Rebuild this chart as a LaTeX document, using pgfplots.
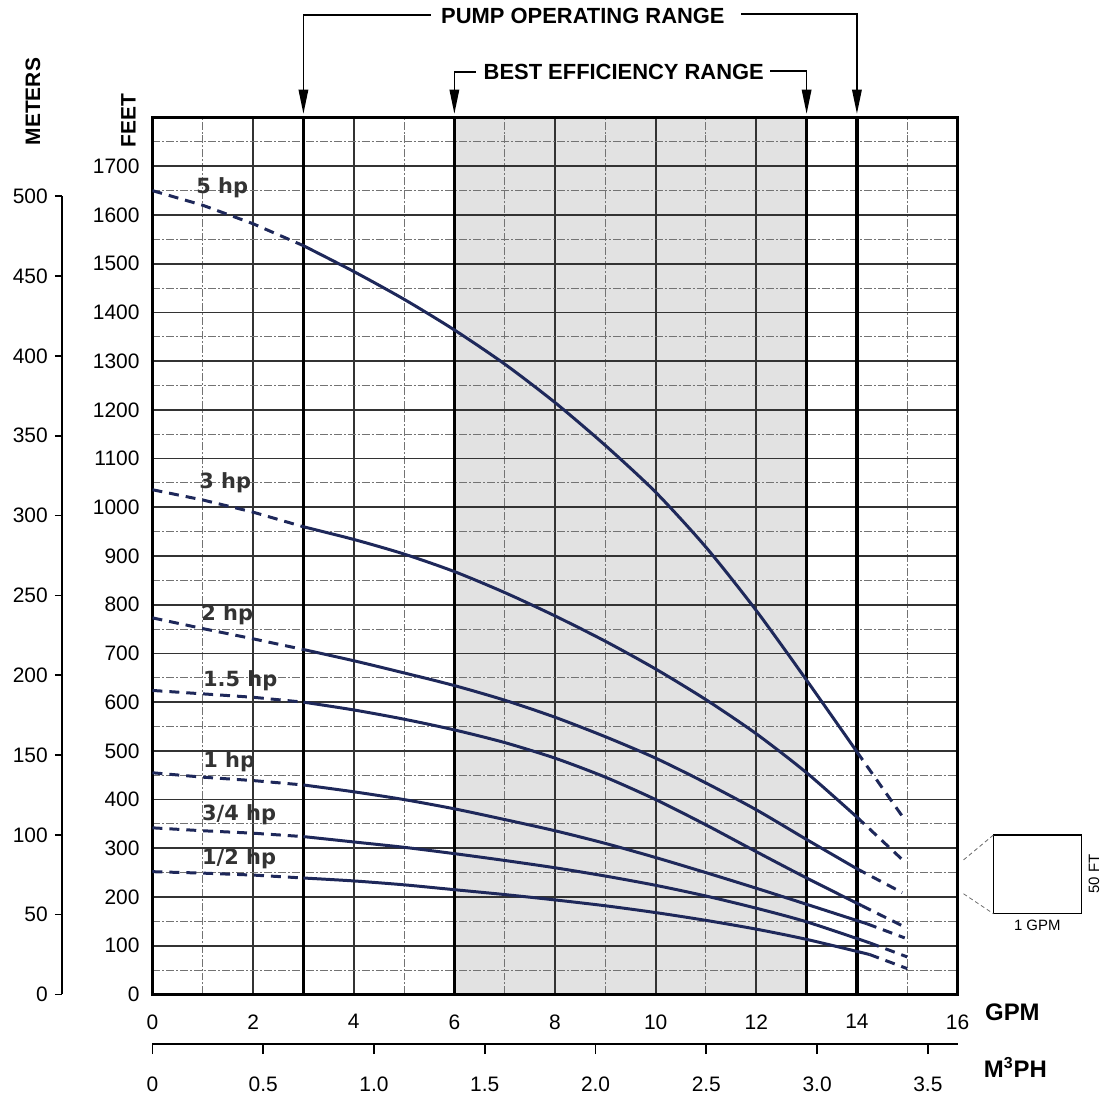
\documentclass[border=0pt]{standalone}
\usepackage{fontspec}
\setmainfont{Liberation Sans}
\newfontfamily\hpfont{DejaVu Sans}
\usepackage{pgfplots}
\pgfplotsset{compat=1.18}
\definecolor{curve}{RGB}{30,40,90}
\definecolor{shade}{RGB}{226,226,226}
\pgfplotsset{
  solidpart/.style={curve, line width=1.5pt, smooth, tension=0.45},
  dashpart/.style={curve, line width=1.5pt, dash pattern=on 5pt off 3.5pt},
}
\begin{document}
\begin{tikzpicture}
\path (0,0) rectangle (553pt,550.5pt);

% main chart, feet vs GPM
\begin{axis}[
  at={(76.5pt,51.5pt)}, anchor=south west,
  scale only axis, width=404pt, height=440pt,
  xmin=0, xmax=16, ymin=0, ymax=1800,
  set layers,
  xtick={0,2,...,16}, minor xtick={1,3,...,15},
  ytick={0,100,...,1700}, minor ytick={50,150,...,1750},
  grid=both,
  major grid style={black!80, line width=0.9pt},
  minor grid style={black!55, line width=0.5pt, dash pattern=on 4pt off 1pt on 1pt off 1pt},
  major tick length=0pt, minor tick length=0pt,
  axis line style={line width=1.6pt},
  tick label style={font=\fontsize{10.5}{12}\selectfont},
  xticklabel style={yshift=-6.5pt},
  yticklabel style={xshift=-3pt},
  /pgf/number format/1000 sep={},
  /pgf/number format/assume math mode=true,
]
% best efficiency band
\addplot[fill=shade, draw=none, on layer=axis background] coordinates {(6,1800) (13,1800)} \closedcycle;
% range lines
\draw[line width=1.6pt] (axis cs:3,0) -- (axis cs:3,1800);
\draw[line width=1.6pt] (axis cs:6,0) -- (axis cs:6,1800);
\draw[line width=1.6pt] (axis cs:13,0) -- (axis cs:13,1800);
\draw[line width=1.6pt] (axis cs:14,0) -- (axis cs:14,1800);

% 5 hp
\addplot[dashpart] coordinates {(0,1650) (1,1620) (2,1582) (3,1537)};
\addplot[solidpart] coordinates {(3,1537) (4,1484) (5,1427) (6,1364) (7,1294) (8,1215) (9,1127) (10,1031) (11,918) (12,788) (13,645) (14,498)};
\addplot[dashpart] coordinates {(14,498) (14.9,366)};
% 3 hp
\addplot[dashpart] coordinates {(0,1036) (1,1015) (2,990) (3,960)};
\addplot[solidpart] coordinates {(3,960) (4,934) (5,904) (6,868) (7,825) (8,777) (9,725) (10,668) (11,605) (12,535) (13,455) (14,364)};
\addplot[dashpart] coordinates {(14,364) (14.95,272)};
% 2 hp
\addplot[dashpart] coordinates {(0,773) (1,751) (2,730) (3,708)};
\addplot[solidpart] coordinates {(3,708) (4,685) (5,660) (6,634) (7,604) (8,569) (9,529) (10,485) (11,434) (12,379) (13,318) (14,258)};
\addplot[dashpart] coordinates {(14,258) (14.9,209)};
% 1.5 hp
\addplot[dashpart] coordinates {(0,624) (1,617) (2,610) (3,600)};
\addplot[solidpart] coordinates {(3,600) (4,584) (5,565) (6,543) (7,517) (8,485) (9,446) (10,400) (11,348) (12,293) (13,239) (14.1,182)};
\addplot[dashpart] coordinates {(14.1,182) (14.9,141)};
% 1 hp
\addplot[dashpart] coordinates {(0,455) (1,446) (2,439) (3,430)};
\addplot[solidpart] coordinates {(3,430) (4,416) (5,400) (6,381) (7,359) (8,336) (9,310) (10,281) (11,250) (12,218) (13,185) (14.2,145)};
\addplot[dashpart] coordinates {(14.2,145) (14.95,116)};
% 3/4 hp
\addplot[dashpart] coordinates {(0,342) (1,336) (2,331) (3,324)};
\addplot[solidpart] coordinates {(3,324) (4,313) (5,302) (6,289) (7,275) (8,260) (9,243) (10,224) (11,202) (12,177) (13,149) (14.25,106)};
\addplot[dashpart] coordinates {(14.25,106) (15,77)};
% 1/2 hp
\addplot[dashpart] coordinates {(0,252) (1,249) (2,245) (3,239)};
\addplot[solidpart] coordinates {(3,239) (4,233) (5,225) (6,215) (7,205) (8,194) (9,182) (10,168) (11,152) (12,134) (13,113) (14.25,82)};
\addplot[dashpart] coordinates {(14.25,82) (15,53)};
\end{axis}

% metres scale
\begin{axis}[
  at={(31pt,51.5pt)}, anchor=south west,
  scale only axis, width=10pt, height=400.5pt,
  xmin=0, xmax=1, ymin=0, ymax=500,
  hide x axis, axis y line=left,
  axis line style={-, line width=0.8pt},
  ytick={0,50,...,500}, tick align=outside, major tick length=3.5pt,
  tick style={line width=0.8pt, black},
  tick label style={font=\fontsize{10.5}{12}\selectfont},
  /pgf/number format/assume math mode=true,
]
\end{axis}

% cubic metres per hour scale
\begin{axis}[
  at={(76.5pt,26.5pt)}, anchor=south west,
  scale only axis, width=404pt, height=5pt,
  xmin=0, xmax=3.634, ymin=0, ymax=1,
  hide y axis, axis x line=bottom,
  axis line style={-, line width=0.9pt},
  xtick={0,0.5,1,1.5,2,2.5,3,3.5},
  xticklabels={0,0.5,1.0,1.5,2.0,2.5,3.0,3.5},
  tick align=outside, major tick length=5pt,
  tick style={line width=0.9pt, black},
  tick label style={font=\fontsize{10.5}{12}\selectfont},
  xticklabel style={yshift=-8pt},
]
\end{axis}

% annotations in pixel units of the reference
\begin{scope}[x=0.5pt, y=-0.5pt, shift={(0pt,550.5pt)}]
  \draw[line width=0.8pt] (304.5,100) -- (304.5,15) -- (433,15);
  \draw[line width=0.8pt] (744,14) -- (860,14) -- (860,100);
  \node[font=\bfseries\fontsize{11}{13}\selectfont] at (585,16) {PUMP OPERATING RANGE};
  \draw[line width=0.8pt] (456,100) -- (456,72) -- (478,72);
  \draw[line width=0.8pt] (773,71) -- (809.5,71) -- (809.5,100);
  \node[font=\bfseries\fontsize{11}{13}\selectfont] at (626,72) {BEST EFFICIENCY RANGE};
  \foreach \ax in {304.5,456,809.5,860}
    \fill (\ax-5,90) -- (\ax+5,90) -- (\ax,114) -- cycle;

  \node[rotate=90, font=\bfseries\fontsize{10.5}{12}\selectfont] at (33,102) {METERS};
  \node[rotate=90, font=\bfseries\fontsize{10.5}{12}\selectfont] at (129,121) {FEET};
  \node[font=\bfseries\fontsize{12}{14}\selectfont] at (1016,1016) {GPM};
  \node[font=\bfseries\fontsize{12}{14}\selectfont] at (1019,1071) {M\textsuperscript{3}PH};

  \begin{scope}[font=\hpfont\bfseries\fontsize{10.5}{12}\selectfont, text=black!80]
    \node at (223,188) {5 hp};
    \node at (226,484) {3 hp};
    \node at (228,617) {2 hp};
    \node at (241,683) {1.5 hp};
    \node at (230,764) {1 hp};
    \node at (240,818) {3/4 hp};
    \node at (240,862) {1/2 hp};
  \end{scope}

  \draw[line width=0.6pt] (997,838) rectangle (1085,917);
  \draw[black!60, line width=0.4pt, dash pattern=on 2pt off 1.5pt] (967,863) -- (997,838);
  \draw[black!60, line width=0.4pt, dash pattern=on 2pt off 1.5pt] (967,897) -- (997,917);
  \node[font=\fontsize{7.5}{9}\selectfont] at (1041,929) {1 GPM};
  \node[rotate=90, font=\fontsize{7.5}{9}\selectfont] at (1098,877) {50 FT};
\end{scope}
\end{tikzpicture}
\end{document}
